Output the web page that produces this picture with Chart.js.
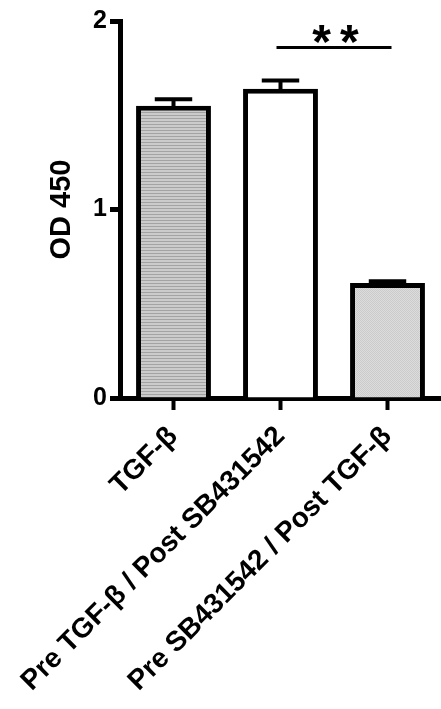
<!DOCTYPE html>
<html><head><meta charset="utf-8">
<script src="https://cdn.jsdelivr.net/npm/chart.js@4/dist/chart.umd.min.js"></script>
<style>html,body{margin:0;padding:0;background:#fff;}#wrap{width:441px;height:709px;position:relative;}</style>
</head><body><div id="wrap"><canvas id="c" width="441" height="709"></canvas></div>
<script>
const categories = ['TGF-β', 'Pre TGF-β / Post SB431542', 'Pre SB431542 / Post TGF-β'];
const values = [1.55, 1.64, 0.61];
const errors = [0.035, 0.045, 0.01];
const yTicks = [0, 1, 2];
const yTitle = 'OD 450';
const sigFrom = 1, sigTo = 2, sigValue = 1.86, sigLabel = '**';

const FAMILY = '"Liberation Sans", Arial, sans-serif';
const canvas = document.getElementById('c');
const ctx0 = canvas.getContext('2d');

function makePattern(w, h, draw) {
  const c = document.createElement('canvas'); c.width = w; c.height = h;
  const g = c.getContext('2d'); draw(g);
  return ctx0.createPattern(c, 'repeat');
}
const stripes = makePattern(4, 3, g => {
  g.fillStyle = '#cbcbcb'; g.fillRect(0, 0, 4, 3);
  g.fillStyle = '#a3a3a3'; g.fillRect(0, 1, 4, 1);
});
const dots = makePattern(2, 2, g => {
  g.fillStyle = '#dcdcdc'; g.fillRect(0, 0, 2, 2);
  g.fillStyle = '#cbcbcb'; g.fillRect(0, 0, 1, 1); g.fillRect(1, 1, 1, 1);
});

const annotate = {
  id: 'annotate',
  afterDatasetsDraw(chart) {
    const ctx = chart.ctx, xs = chart.scales.x, ys = chart.scales.y;
    const meta = chart.getDatasetMeta(0);
    ctx.save();
    ctx.strokeStyle = '#000'; ctx.lineCap = 'butt';
    meta.data.forEach((bar, i) => {
      const yTop = ys.getPixelForValue(values[i]);
      const yErr = ys.getPixelForValue(values[i] + errors[i]);
      const half = bar.width * 0.25;
      ctx.lineWidth = 4;
      ctx.beginPath();
      ctx.moveTo(bar.x, yTop + 2); ctx.lineTo(bar.x, yErr);
      ctx.moveTo(bar.x - half, yErr); ctx.lineTo(bar.x + half, yErr);
      ctx.stroke();
    });
    // significance line
    const x1 = xs.getPixelForValue(sigFrom) - 4, x2 = xs.getPixelForValue(sigTo) + 4;
    const yl = ys.getPixelForValue(sigValue);
    ctx.lineWidth = 3;
    ctx.beginPath(); ctx.moveTo(x1, yl); ctx.lineTo(x2, yl); ctx.stroke();
    ctx.fillStyle = '#000';
    ctx.font = 'bold 48px ' + FAMILY;
    ctx.textAlign = 'center'; ctx.textBaseline = 'alphabetic';
    ctx.letterSpacing = '9px';
    ctx.fillText(sigLabel, (x1 + x2) / 2 + 6, yl + 11);
    ctx.restore();
  }
};

new Chart(canvas, {
  type: 'bar',
  data: {
    labels: categories,
    datasets: [{
      data: values,
      backgroundColor: [stripes, '#ffffff', dots],
      borderColor: '#000',
      borderWidth: 5,
      borderSkipped: 'bottom',
      barPercentage: 0.7,
      categoryPercentage: 1.0
    }]
  },
  options: {
    responsive: false,
    animation: false,
    devicePixelRatio: 1,
    layout: { padding: { top: 21, right: 0, left: 0, bottom: 0 } },
    plugins: { legend: { display: false }, tooltip: { enabled: false } },
    scales: {
      x: {
        offset: true,
        grid: { display: true, drawOnChartArea: false, drawTicks: true, tickLength: 12, tickWidth: 4, tickColor: '#000', offset: false },
        border: { display: true, width: 5, color: '#000' },
        ticks: { maxRotation: 45, minRotation: 45, autoSkip: false, color: '#000', padding: 10,
                 font: { family: FAMILY, size: 28, weight: 'bold' } },
        afterFit(s) { s.height = 311; }
      },
      y: {
        min: 0, max: 2,
        afterBuildTicks(s) { s.ticks = yTicks.map(v => ({ value: v })); },
        grid: { display: true, drawOnChartArea: false, drawTicks: true, tickLength: 10, tickWidth: 5, tickColor: '#000' },
        border: { display: true, width: 5, color: '#000' },
        ticks: { color: '#000', padding: 3, font: { family: FAMILY, size: 25, weight: 'bold' } },
        title: { display: true, text: yTitle, color: '#000', padding: { top: 45, bottom: 0 },
                 font: { family: FAMILY, size: 29, weight: 'bold' } },
        afterFit(s) { s.width = 120; }
      }
    }
  },
  plugins: [annotate]
});
</script>
</body></html>
